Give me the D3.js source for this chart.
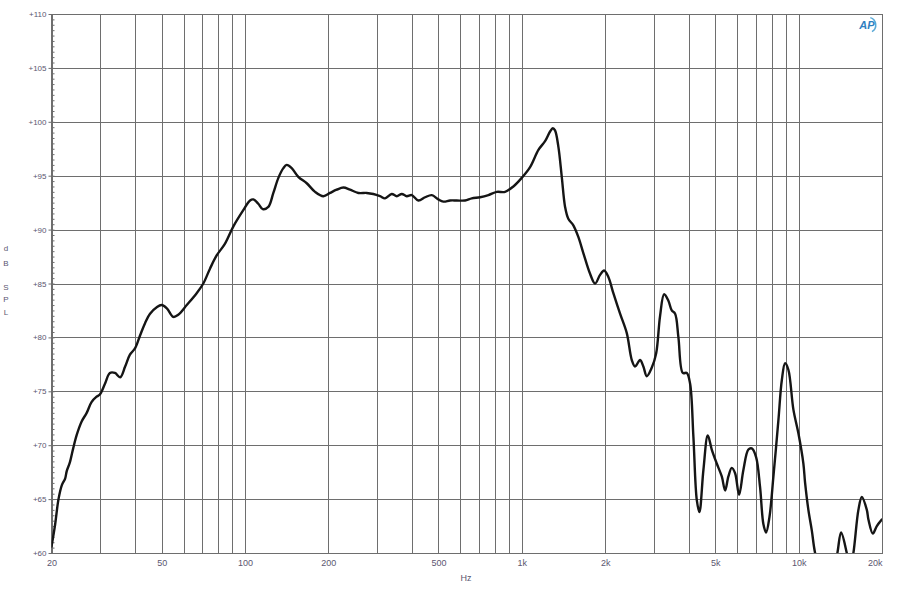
<!DOCTYPE html>
<html>
<head>
<meta charset="utf-8">
<script src="https://cdn.jsdelivr.net/npm/d3@7"></script>
<style>
  html, body { margin: 0; padding: 0; background: #fff; }
  svg { display: block; }
  text { font-family: "Liberation Sans", Arial, sans-serif; }
</style>
</head>
<body>
<svg id="chart" width="898" height="600"></svg>
<script>
// ---- data ----
const freqHz = [20, 20.6, 21.2, 21.8, 22.4, 22.7, 23.3, 24.0, 24.7, 25.7, 26.8, 27.9, 29.1, 29.9, 31.2, 32.5, 33.9, 35.4, 36.9, 38.4, 40.1, 41.8, 43.5, 45.4, 48.0, 50.0, 52.2, 55.1, 57.4, 61.6, 66.9, 70.7, 74.8, 79.0, 84.7, 90.8, 98.6, 104.3, 107.2, 111.7, 115.9, 121.4, 126.6, 132.0, 137.6, 141.5, 147.5, 155.8, 167.1, 179.1, 191.9, 202.8, 214.4, 226.6, 239.6, 256.7, 275.1, 290.8, 307.5, 320.6, 338.8, 353.4, 368.4, 384.0, 400.3, 422.9, 447.2, 472.8, 499.4, 520.6, 550.5, 582, 623.6, 659.4, 706.6, 757.2, 811.8, 869.8, 932, 999, 1071, 1148, 1213, 1265, 1294, 1318, 1355, 1394, 1433, 1472, 1535, 1601, 1669, 1764, 1839, 1917, 1982, 2054, 2141, 2264, 2394, 2496, 2565, 2674, 2748, 2828, 2948, 3056, 3158, 3266, 3384, 3480, 3578, 3678, 3816, 3944, 4054, 4166, 4286, 4380, 4528, 4696, 4854, 5060, 5276, 5424, 5574, 5734, 5894, 6092, 6314, 6582, 6770, 7018, 7254, 7456, 7626, 7840, 8106, 8448, 8690, 8932, 9180, 9572, 9978, 10400, 10550, 10842, 11154, 11464, 12458, 13000, 13802, 14232, 14924, 15342, 15766, 16436, 16908, 17628, 17864, 18530, 19156, 19968];
const splDb = [60.6, 62.6, 65.0, 66.3, 66.9, 67.6, 68.4, 69.8, 71.0, 72.2, 73.0, 74.0, 74.5, 74.7, 75.7, 76.7, 76.7, 76.3, 77.3, 78.4, 79.0, 80.2, 81.3, 82.2, 82.8, 83.0, 82.7, 81.9, 82.1, 83.0, 84.1, 85.0, 86.4, 87.6, 88.7, 90.3, 91.8, 92.7, 92.8, 92.4, 91.9, 92.1, 93.4, 94.8, 95.7, 96.0, 95.7, 94.9, 94.3, 93.5, 93.1, 93.4, 93.7, 93.9, 93.7, 93.4, 93.4, 93.3, 93.1, 92.9, 93.3, 93.1, 93.3, 93.1, 93.2, 92.7, 93.0, 93.2, 92.8, 92.6, 92.7, 92.7, 92.7, 92.9, 93.0, 93.2, 93.5, 93.5, 94.0, 94.8, 95.8, 97.4, 98.2, 99.1, 99.4, 99.2, 97.7, 94.9, 92.1, 91.0, 90.4, 89.3, 87.8, 85.9, 85.0, 85.8, 86.2, 85.6, 84.1, 82.2, 80.4, 77.9, 77.3, 77.9, 77.3, 76.4, 77.2, 78.5, 82.0, 84.0, 83.4, 82.5, 82.2, 80.0, 76.7, 76.7, 75.7, 70.8, 64.9, 63.8, 67.7, 70.9, 69.6, 68.3, 67.1, 65.8, 67.1, 67.9, 67.4, 65.4, 67.7, 69.6, 69.7, 68.9, 66.1, 62.7, 61.9, 63.3, 67.1, 72.3, 76.0, 77.6, 77.0, 73.3, 71.1, 68.3, 66.5, 64.0, 62.1, 60.0, 56.5, 56.5, 60.0, 61.9, 60.0, 58.5, 60.0, 64.0, 65.2, 64.0, 63.1, 61.8, 62.5, 63.1];

const yTickValues = [60, 65, 70, 75, 80, 85, 90, 95, 100, 105, 110];
const xLabelValues = [20, 50, 100, 200, 500, 1000, 2000, 5000, 10000, 20000];
const xLabelTexts = ["20", "50", "100", "200", "500", "1k", "2k", "5k", "10k", "20k"];
const xGridValues = [20, 30, 40, 50, 60, 70, 80, 90, 100, 200, 300, 400, 500, 600, 700, 800, 900,
  1000, 2000, 3000, 4000, 5000, 6000, 7000, 8000, 9000, 10000, 20000];
const yAxisTitle = ["d", "B", "S", "P", "L"];

// ---- layout ----
const L = 51.5, R = 882, T = 14, B = 553;
const svg = d3.select("#chart");
svg.append("rect").attr("width", 898).attr("height", 600).attr("fill", "#fff");

const x = d3.scaleLog().domain([20, 20000]).range([L, R]);
const y = d3.scaleLinear().domain([60, 110]).range([B, T]);

// grid
const grid = svg.append("g").attr("stroke", "#6e6e6e").attr("stroke-width", 1).attr("shape-rendering", "crispEdges");
grid.selectAll("line.v").data(xGridValues).join("line")
  .attr("class", "v")
  .attr("x1", d => Math.round(x(d)) + 0.5).attr("x2", d => Math.round(x(d)) + 0.5)
  .attr("y1", T).attr("y2", B);
grid.selectAll("line.h").data(yTickValues).join("line")
  .attr("class", "h")
  .attr("x1", L).attr("x2", R)
  .attr("y1", d => Math.round(y(d)) + 0.5).attr("y2", d => Math.round(y(d)) + 0.5);

// minor ticks on left edge (every 0.5 dB)
const minorVals = d3.range(60, 110.001, 0.5);
const minorAxis = d3.axisRight(y).tickValues(minorVals).tickSize(3).tickFormat("");
const gMinor = svg.append("g").attr("transform", `translate(${L},0)`).call(minorAxis);
gMinor.select(".domain").attr("stroke", "#6e6e6e");
gMinor.selectAll(".tick line").attr("stroke", "#6e6e6e");

// y labels
const yAxis = d3.axisLeft(y).tickValues(yTickValues).tickSize(3).tickPadding(2).tickFormat(d => "+" + d);
const gY = svg.append("g").attr("transform", `translate(${L},0)`).call(yAxis);
gY.select(".domain").remove();
gY.selectAll(".tick line").attr("stroke", "#6e6e6e");
gY.selectAll(".tick text").attr("fill", "#5b5670").attr("font-size", 8)
  .attr("font-family", "'Liberation Sans', Arial, sans-serif");

// x labels
const xAxis = d3.axisBottom(x).tickValues(xLabelValues).tickSize(0).tickPadding(7)
  .tickFormat((d, i) => xLabelTexts[i]);
const gX = svg.append("g").attr("transform", `translate(0,${B})`).call(xAxis);
gX.select(".domain").remove();
gX.selectAll(".tick text").attr("fill", "#5b5670").attr("font-size", 9)
  .attr("font-family", "'Liberation Sans', Arial, sans-serif")
  .attr("text-anchor", d => d === 20000 ? "end" : "middle");

// axis titles
svg.append("text").attr("x", 466).attr("y", 581).attr("text-anchor", "middle")
  .attr("font-size", 9).attr("fill", "#5b5670").text("Hz");
const titleY = [251, 266, 290, 302, 315];
svg.selectAll("text.yt").data(yAxisTitle).join("text").attr("class", "yt")
  .attr("x", 6).attr("y", (d, i) => titleY[i]).attr("text-anchor", "middle")
  .attr("font-size", 8).attr("fill", "#5b5670").text(d => d);

// plot border
svg.append("rect").attr("x", L).attr("y", T + 0.5).attr("width", R - L).attr("height", B - T)
  .attr("fill", "none").attr("stroke", "#6e6e6e").attr("stroke-width", 1).attr("shape-rendering", "crispEdges");

// clip
svg.append("clipPath").attr("id", "plotclip").append("rect")
  .attr("x", L).attr("y", T).attr("width", R - L).attr("height", B - T);

// curve
const pts = freqHz.map((f, i) => [f, splDb[i]]);
const line = d3.line().x(d => x(d[0])).y(d => y(d[1])).curve(d3.curveCatmullRom.alpha(0.5));
svg.append("path").datum(pts).attr("d", line).attr("clip-path", "url(#plotclip)")
  .attr("fill", "none").attr("stroke", "#151515").attr("stroke-width", 2.4)
  .attr("stroke-linejoin", "round").attr("stroke-linecap", "round");

// AP logo
const logo = svg.append("g").attr("transform", "translate(868,25)");
logo.append("path").attr("d", d3.arc()({innerRadius: 7, outerRadius: 8.5, startAngle: 0.3, endAngle: 2.6}))
  .attr("fill", "#5aa9d6");
logo.append("text").attr("x", -1).attr("y", 4).attr("text-anchor", "middle")
  .attr("font-size", 11).attr("font-style", "italic").attr("font-weight", "bold")
  .attr("fill", "#2f7fbf").text("AP");
</script>
</body>
</html>
